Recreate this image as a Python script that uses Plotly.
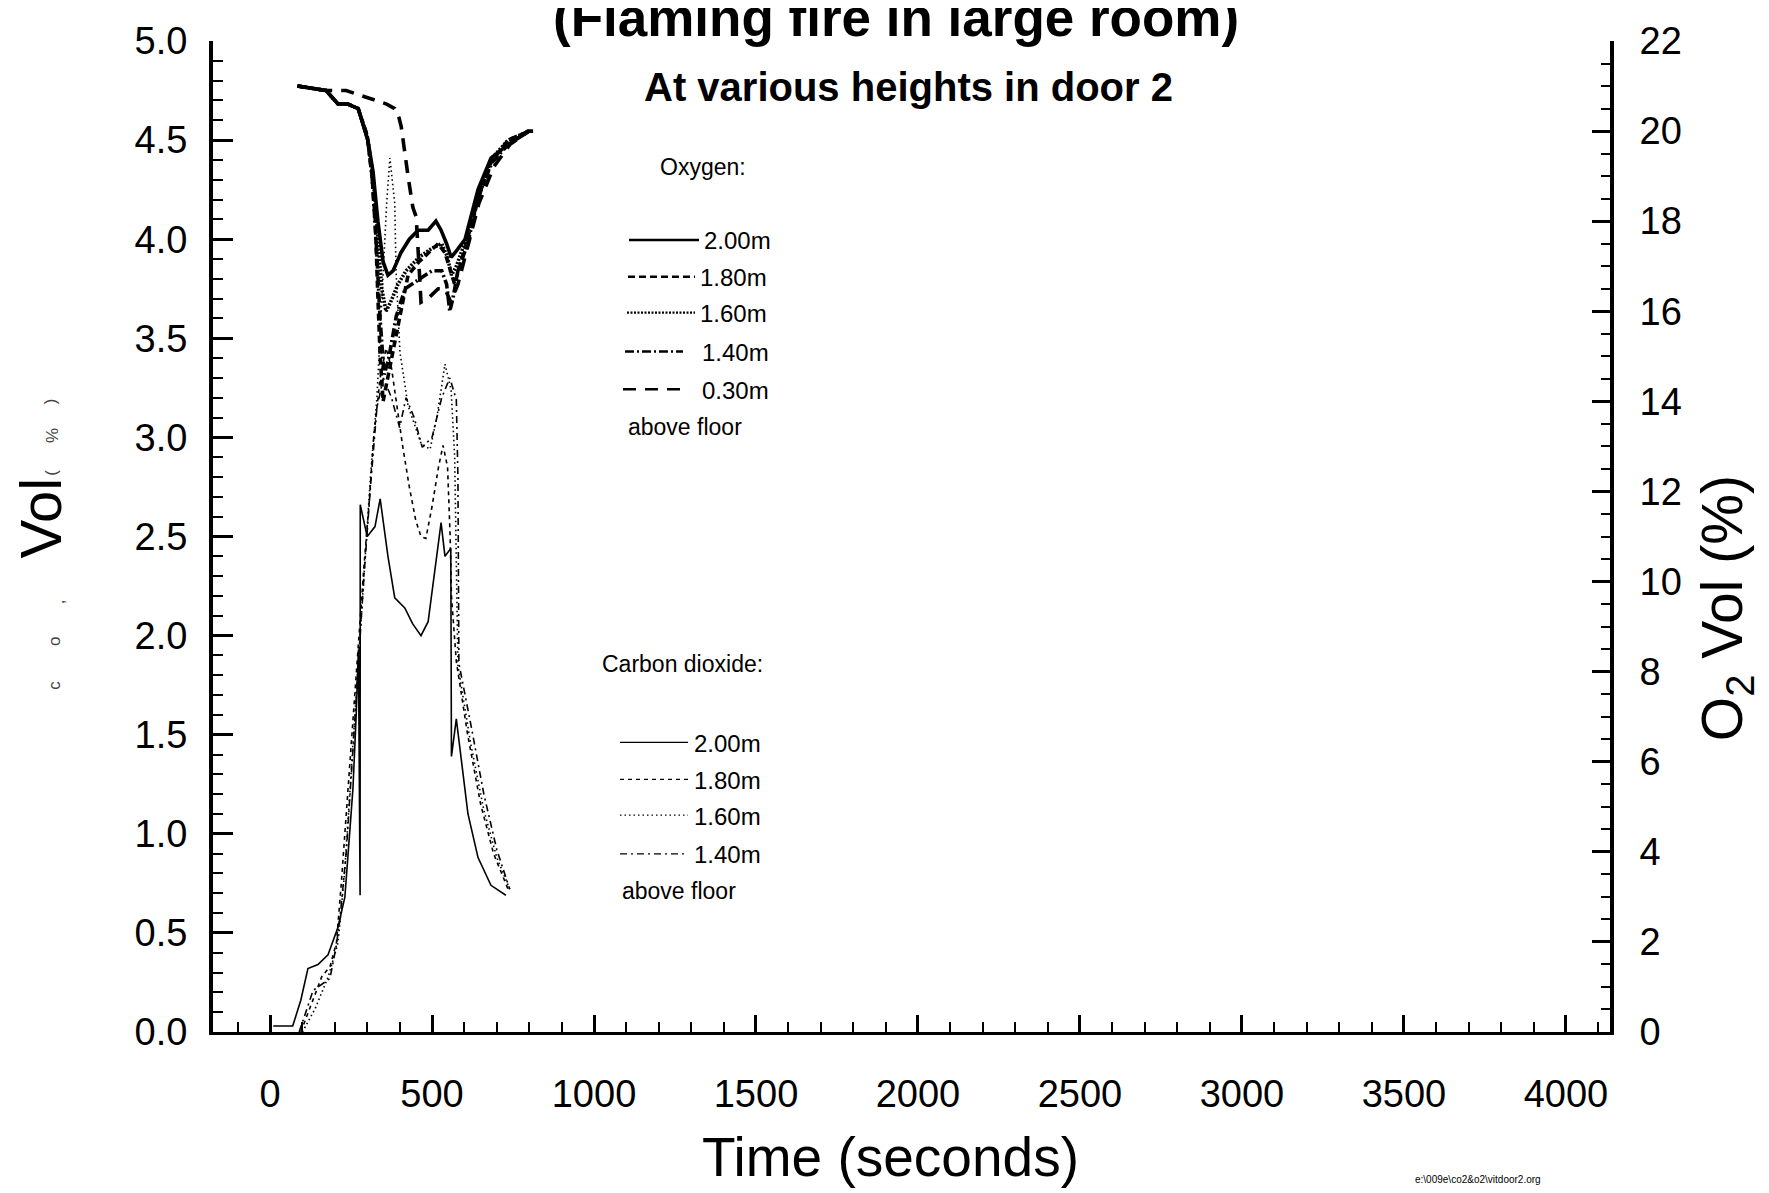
import plotly.graph_objects as go

# ---------------- data ----------------
# Oxygen (% vol, right axis)
o2_200_t = [85, 173, 210, 240, 272, 302, 318, 333, 349, 364, 380, 404, 430, 457, 488, 512, 528, 545, 559, 571, 602, 642, 682, 735, 796, 812]
o2_200_v = [21.0, 20.9, 20.6, 20.6, 20.5, 19.8, 19.1, 18.0, 17.1, 16.8, 16.9, 17.3, 17.6, 17.8, 17.8, 18.0, 17.8, 17.5, 17.2, 17.3, 17.6, 18.7, 19.4, 19.7, 20.0, 20.0]

o2_180_t = [85, 173, 210, 240, 272, 300, 315, 325, 332, 340, 349, 360, 386, 417, 426, 460, 490, 519, 540, 556, 570, 602, 642, 682, 735, 800]
o2_180_v = [21.0, 20.9, 20.6, 20.6, 20.5, 19.9, 19.0, 18.0, 16.5, 15.0, 14.0, 14.4, 15.3, 16.5, 16.8, 17.1, 17.3, 17.5, 17.3, 16.9, 16.6, 17.4, 18.5, 19.3, 19.8, 20.0]

o2_160_t = [85, 173, 210, 240, 272, 302, 318, 333, 345, 358, 372, 395, 420, 460, 500, 530, 548, 560, 575, 605, 645, 685, 735, 800]
o2_160_v = [21.0, 20.9, 20.6, 20.6, 20.5, 19.8, 19.0, 17.6, 16.5, 16.0, 16.2, 16.6, 16.9, 17.2, 17.4, 17.5, 17.2, 16.8, 17.0, 17.6, 18.6, 19.4, 19.8, 20.0]

o2_140_t = [85, 173, 210, 240, 272, 300, 315, 328, 340, 352, 365, 390, 417, 460, 500, 530, 545, 555, 565, 580, 610, 645, 685, 735, 800]
o2_140_v = [21.0, 20.9, 20.6, 20.6, 20.5, 19.9, 19.0, 17.5, 15.8, 14.6, 14.9, 15.9, 16.5, 16.7, 16.9, 16.9, 16.6, 16.0, 16.3, 16.9, 17.5, 18.6, 19.3, 19.7, 20.0]

o2_030_t = [85, 173, 235, 324, 360, 385, 398, 405, 410, 426, 441, 451, 460, 466, 490, 519, 540, 558, 580, 610, 645, 690, 740, 800]
o2_030_v = [21.0, 20.9, 20.9, 20.7, 20.6, 20.5, 20.3, 20.1, 19.8, 19.0, 18.3, 18.1, 17.0, 16.2, 16.3, 16.5, 16.5, 16.2, 16.6, 17.4, 18.4, 19.2, 19.7, 20.0]

# Carbon dioxide (% vol, left axis)
co2_200_t = [10, 70, 95, 117, 148, 179, 210, 231, 247, 256, 266, 273, 278, 278.5, 300, 324, 340, 364, 385, 416, 440, 466, 488, 512, 528, 540, 558, 560, 575, 611, 642, 682, 728]
co2_200_v = [0.03, 0.03, 0.16, 0.32, 0.34, 0.39, 0.53, 0.68, 1.03, 1.23, 1.6, 1.93, 0.69, 2.66, 2.5, 2.55, 2.69, 2.40, 2.19, 2.14, 2.06, 2.00, 2.07, 2.37, 2.57, 2.40, 2.44, 1.39, 1.58, 1.10, 0.88, 0.74, 0.69]

co2_180_t = [95, 130, 160, 185, 205, 220, 235, 250, 262, 275, 290, 305, 320, 340, 358, 375, 389, 410, 430, 450, 466, 481, 500, 520, 534, 548, 556, 560, 575, 610, 650, 690, 735]
co2_180_v = [0.0, 0.15, 0.28, 0.33, 0.45, 0.75, 1.09, 1.45, 1.75, 2.0, 2.35, 2.65, 3.0, 3.3, 3.45, 3.35, 3.19, 2.95, 2.75, 2.58, 2.50, 2.49, 2.65, 2.85, 2.96, 2.85, 2.5, 2.2, 1.87, 1.5, 1.15, 0.9, 0.72]

co2_160_t = [100, 140, 180, 210, 230, 250, 270, 290, 310, 330, 345, 360, 370, 385, 389, 401, 426, 466, 494, 515, 540, 559, 570, 580, 620, 660, 700, 740]
co2_160_v = [0.0, 0.12, 0.28, 0.45, 0.8, 1.3, 1.8, 2.3, 2.8, 3.2, 3.7, 4.18, 4.41, 4.18, 3.84, 3.43, 3.16, 2.97, 2.94, 3.1, 3.37, 3.24, 2.9, 1.85, 1.45, 1.12, 0.88, 0.72]

co2_140_t = [90, 133, 185, 204, 215, 235, 255, 270, 290, 310, 330, 350, 375, 400, 420, 445, 470, 500, 530, 555, 575, 580, 583, 620, 660, 700, 740]
co2_140_v = [0.0, 0.21, 0.27, 0.43, 0.56, 0.9, 1.4, 1.8, 2.3, 2.75, 3.15, 3.3, 3.2, 3.05, 3.2, 3.1, 2.95, 3.0, 3.2, 3.3, 3.19, 2.80, 1.86, 1.55, 1.2, 0.92, 0.72]

x_ticks = [0, 500, 1000, 1500, 2000, 2500, 3000, 3500, 4000]
heights_o2 = ["2.00m", "1.80m", "1.60m", "1.40m", "0.30m"]
heights_co2 = ["2.00m", "1.80m", "1.60m", "1.40m"]

# ---------------- styles ----------------
O2_DASH = ["solid", "7px,4px", "2px,1.5px", "9px,3px,2px,3px", "13px,9px"]
CO2_DASH = ["solid", "4px,4px", "1.5px,3px", "7px,4px,2px,4px"]
FONT = "Liberation Sans, Arial, sans-serif"

W, H = 1769, 1193
L, R, T, B = 205, 1602, 28, 1024


def px(x):
    return (x - L) / (R - L)


def py(y):
    return (B - y) / (B - T)


def note(x, y, text, size, xanchor="left", yanchor="middle", angle=0, color="black"):
    return dict(x=px(x), y=py(y), xref="paper", yref="paper", text=text,
                showarrow=False, xanchor=xanchor, yanchor=yanchor,
                textangle=angle, font=dict(size=size, color=color, family=FONT))


fig = go.Figure()

o2_series = [(o2_200_t, o2_200_v), (o2_180_t, o2_180_v), (o2_160_t, o2_160_v),
             (o2_140_t, o2_140_v), (o2_030_t, o2_030_v)]
co2_series = [(co2_200_t, co2_200_v), (co2_180_t, co2_180_v),
              (co2_160_t, co2_160_v), (co2_140_t, co2_140_v)]

for (t, v), name, dash in zip(co2_series, heights_co2, CO2_DASH):
    fig.add_trace(go.Scatter(x=t, y=v, mode="lines", name="CO2 " + name,
                             line=dict(color="black", width=1.6, dash=dash),
                             showlegend=False, yaxis="y"))

for (t, v), name, dash in zip(o2_series, heights_o2, O2_DASH):
    fig.add_trace(go.Scatter(x=t, y=v, mode="lines", name="O2 " + name,
                             line=dict(color="black", width=3.6, dash=dash),
                             showlegend=False, yaxis="y2"))

shapes = []
ann = []
DX, DY = -8, -11  # legend offset

# Oxygen legend
ann.append(note(703 + DX, 166 + DY, "Oxygen:", 23, xanchor="center"))
o2_rows = [240, 277, 313, 352, 390]
o2_x0 = [629, 628, 627, 625, 623]
o2_x1 = [699, 695, 695, 683, 688]
for yrow, x0, x1, dash, lab in zip(o2_rows, o2_x0, o2_x1, O2_DASH, heights_o2):
    shapes.append(dict(type="line", xref="paper", yref="paper",
                       x0=px(x0 + DX), x1=px(x1 + DX), y0=py(yrow + DY - 1), y1=py(yrow + DY - 1),
                       line=dict(color="black", width=2.4, dash=dash)))
    ann.append(note((x1 + 3 if x1 > 690 else 700) + DX, yrow + DY, lab, 24))
ann.append(note(626 + DX, 427 + DY, "above floor", 23))

# CO2 legend
ann.append(note(600 + DX, 665 + DY, "Carbon dioxide:", 23))
co2_rows = [745, 782, 818, 857]
for yrow, dash, lab in zip(co2_rows, CO2_DASH, heights_co2):
    shapes.append(dict(type="line", xref="paper", yref="paper",
                       x0=px(620 + DX), x1=px(688 + DX), y0=py(yrow + DY - 1), y1=py(yrow + DY - 1),
                       line=dict(color="black", width=1.2, dash=dash)))
    ann.append(note(692 + DX, yrow + DY, lab, 24))
ann.append(note(620 + DX, 893 + DY, "above floor", 23))

# Titles
ann.append(note(888, -27, "<b>(Flaming fire in large room)</b>", 53,
                xanchor="center", yanchor="top"))
ann.append(note(900, 74, "<b>At various heights in door 2</b>", 40,
                xanchor="center"))

# Axis titles
ann.append(note(882, 1150, "Time (seconds)", 55, xanchor="center"))
ann.append(note(1718, 598, "O<sub>2</sub> Vol (%)", 57, xanchor="center", angle=-90))
ann.append(note(33, 508, "Vol", 58, xanchor="center", angle=-90))
for ch, yy, xx in [("(", 462, 44), ("%", 425, 44), (")", 390, 42),
                   (",", 592, 50), ("o", 632, 47), ("c", 676, 47)]:
    ann.append(note(xx, yy, ch, 17, xanchor="center", angle=-90, color="#444"))

ann.append(note(1405, 1172, "e:\\009e\\co2&amp;o2\\vitdoor2.org", 10))

axis_common = dict(showgrid=False, zeroline=False, showline=True,
                   linecolor="black", ticks="inside", tickcolor="black",
                   tickfont=dict(size=38, color="black", family=FONT))

fig.update_layout(
    width=W, height=H,
    margin=dict(l=L, r=W - R, t=T, b=H - B, pad=0),
    paper_bgcolor="white", plot_bgcolor="white",
    font=dict(family=FONT, color="black"),
    showlegend=False,
    xaxis=dict(range=[-176, 4136], tickmode="array", tickvals=x_ticks,
               ticklen=17, tickwidth=2.5, linewidth=3,
               ticklabelstandoff=26,
               minor=dict(tickmode="linear", tick0=0, dtick=100, ticks="inside",
                          ticklen=10, tickwidth=2, tickcolor="black"),
               **axis_common),
    yaxis=dict(range=[0, 5], tickmode="linear", tick0=0, dtick=0.5,
               tickformat=".1f", ticklen=20, tickwidth=2.5, linewidth=4,
               ticklabelstandoff=14,
               minor=dict(tickmode="linear", tick0=0, dtick=0.1, ticks="inside",
                          ticklen=10, tickwidth=2, tickcolor="black"),
               **axis_common),
    yaxis2=dict(range=[0, 22], overlaying="y", side="right", anchor="x",
                tickmode="linear", tick0=0, dtick=2, ticklen=18, tickwidth=2.5,
                linewidth=4, ticklabelstandoff=18,
                minor=dict(tickmode="linear", tick0=0, dtick=0.5, ticks="inside",
                           ticklen=9, tickwidth=2, tickcolor="black"),
                **axis_common),
    shapes=shapes,
    annotations=ann,
)

fig.write_html("out.html")
